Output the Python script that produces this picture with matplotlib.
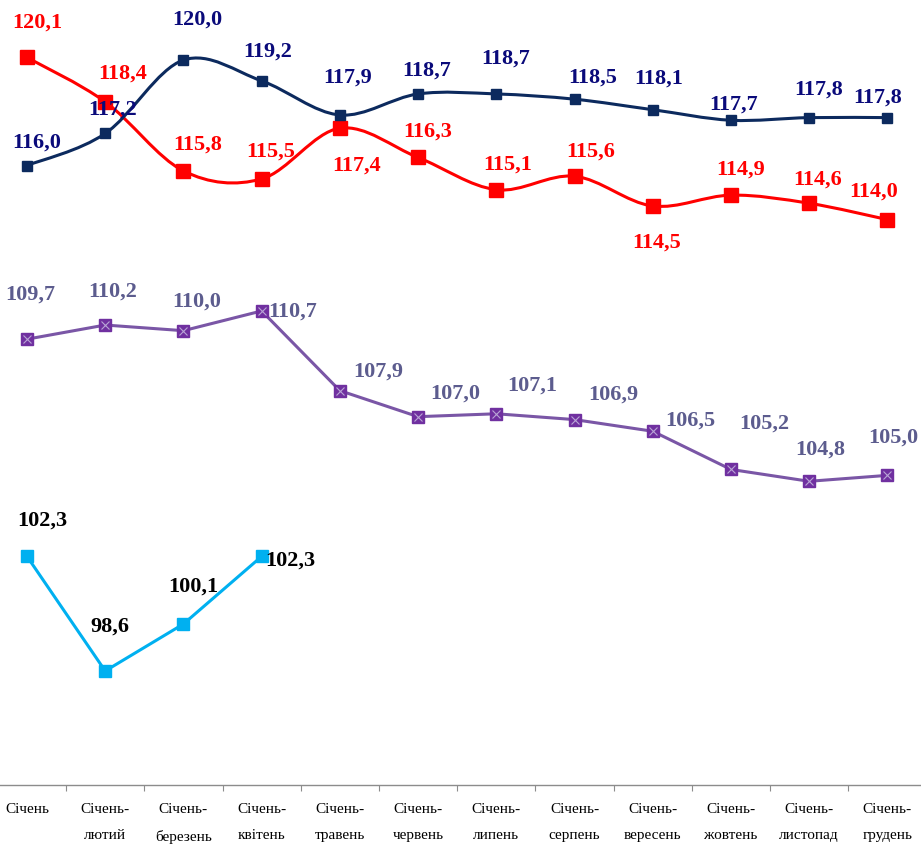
import matplotlib
matplotlib.use("Agg")
import matplotlib.pyplot as plt
import numpy as np
from matplotlib.path import Path
from matplotlib.patches import PathPatch
from matplotlib.ticker import FixedLocator, NullFormatter

# ---------------------------------------------------------------------------
# Data
# ---------------------------------------------------------------------------
months = ["Січень", "Січень-\nлютий", "Січень-\nберезень", "Січень-\nквітень",
          "Січень-\nтравень", "Січень-\nчервень", "Січень-\nлипень",
          "Січень-\nсерпень", "Січень-\nвересень", "Січень-\nжовтень",
          "Січень-\nлистопад", "Січень-\nгрудень"]

navy_vals = [116.0, 117.2, 120.0, 119.2, 117.9, 118.7, 118.7, 118.5, 118.1,
             117.7, 117.8, 117.8]
red_vals = [120.1, 118.4, 115.8, 115.5, 117.4, 116.3, 115.1, 115.6, 114.5,
            114.9, 114.6, 114.0]
purple_vals = [109.7, 110.2, 110.0, 110.7, 107.9, 107.0, 107.1, 106.9, 106.5,
               105.2, 104.8, 105.0]
cyan_vals = [102.3, 98.6, 100.1, 102.3]

# label offsets in pixels (dx, dy) from the marker
navy_off = [(10, 23), (7, 24), (14, 40), (6, 29), (8, 37), (9, 23), (9, 35),
            (18, 22), (6, 31), (3, 16), (9, 28), (-10, 20)]
red_off = [(10, 35), (17, 28), (14, 26), (9, 27), (17, -37), (10, 26),
           (11, 25), (16, 25), (4, -37), (10, 26), (8, 24), (-14, 28)]
purple_off = [(3, 45), (7, 33), (13, 29), (31, -1), (38, 19), (37, 23),
              (36, 28), (39, 25), (38, 11), (33, 46), (11, 32), (6, 38)]
cyan_off = [(15, 36), (5, 44), (10, 37), (29, -4)]

SERIF = ["Liberation Serif", "DejaVu Serif"]


def _smooth_path(xs, ys):
    """Catmull-Rom style bezier through the points (like Excel smoothing)."""
    pts = np.column_stack([xs, ys]).astype(float)
    n = len(pts)
    verts = [pts[0]]
    codes = [Path.MOVETO]
    for i in range(n - 1):
        p0 = pts[i - 1] if i > 0 else pts[i]
        p1 = pts[i]
        p2 = pts[i + 1]
        p3 = pts[i + 2] if i + 2 < n else pts[i + 1]
        c1 = p1 + (p2 - p0) / 6.0
        c2 = p2 - (p3 - p1) / 6.0
        verts += [c1, c2, p2]
        codes += [Path.CURVE4] * 3
    return Path(verts, codes)


def _labels(ax, xs, vals, offs, color):
    for x, v, (dx, dy) in zip(xs, vals, offs):
        ax.annotate(f"{v:.1f}".replace(".", ","), (x, v), xytext=(dx, dy),
                    textcoords="offset pixels", ha="center", va="center",
                    fontsize=16, fontweight="bold", color=color,
                    family=SERIF, zorder=10)


fig = plt.figure(figsize=(9.21, 8.52), dpi=100)
ax = fig.add_axes([0, 67 / 852, 1, 1 - 67 / 852])
ax.set_yscale("log")
ax.set_ylim(95.05, 122.34)
ax.set_xlim(-0.345, 11.43)

x = np.arange(len(months))
xc = np.arange(len(cyan_vals))

# red (smoothed)
ax.add_patch(PathPatch(_smooth_path(x, red_vals), fill=False,
                       edgecolor="#ff0000", lw=2.2, zorder=3))
ax.plot(x, red_vals, ls="none", marker="s", ms=10, color="#ff0000", zorder=4)

# navy (smoothed)
ax.add_patch(PathPatch(_smooth_path(x, navy_vals), fill=False,
                       edgecolor="#0c2a5e", lw=2.2, zorder=5))
ax.plot(x, navy_vals, ls="none", marker="s", ms=7.5, color="#0c2a5e", zorder=6)

# purple
ax.plot(x, purple_vals, color="#7a56a6", lw=2.2, marker="s", ms=8.5,
        mfc="#7030a0", mec="#7030a0", zorder=3)
ax.plot(x, purple_vals, ls="none", marker="x", ms=6, mew=0.8,
        color="#b9a5d6", zorder=4)

# cyan
ax.plot(xc, cyan_vals, color="#00b0f0", lw=2.2, marker="s", ms=8,
        zorder=3)

_labels(ax, x, navy_vals, navy_off, "#0a0a7a")
_labels(ax, x, red_vals, red_off, "#ff0000")
_labels(ax, x, purple_vals, purple_off, "#5c5c8e")
_labels(ax, xc, cyan_vals, cyan_off, "#000000")

# axes styling
for side in ("top", "left", "right"):
    ax.spines[side].set_visible(False)
ax.spines["bottom"].set_color("#8c8c8c")
ax.spines["bottom"].set_linewidth(1.0)
ax.yaxis.set_visible(False)

ax.xaxis.set_major_locator(FixedLocator(np.arange(-0.5, len(months), 1.0)))
ax.xaxis.set_major_formatter(NullFormatter())
ax.xaxis.set_minor_locator(FixedLocator(x))
ax.set_xticklabels(months, minor=True, family=SERIF, fontsize=11,
                   linespacing=2.3, va="top")
ax.tick_params(axis="x", which="major", direction="out", length=4.5,
               width=0.8, color="#8c8c8c")
ax.tick_params(axis="x", which="minor", length=0, pad=13)

fig.savefig("out.png", dpi=100)
